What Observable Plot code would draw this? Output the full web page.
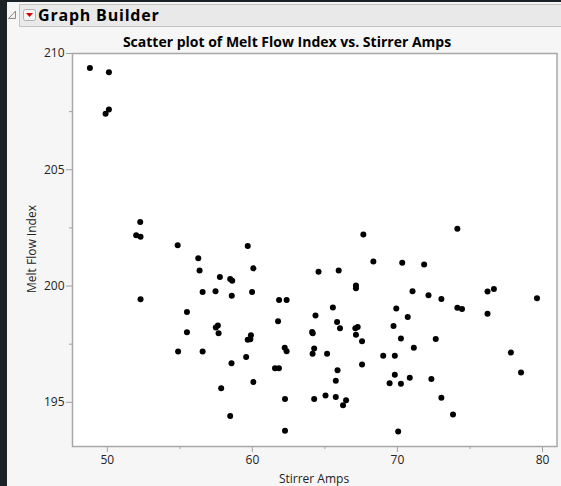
<!DOCTYPE html>
<html><head><meta charset="utf-8">
<script src="https://cdn.jsdelivr.net/npm/d3@7"></script>
<script src="https://cdn.jsdelivr.net/npm/@observablehq/plot@0.6"></script>
<style>
html,body{margin:0;padding:0;}
body{width:561px;height:486px;background:#1b2329;position:relative;overflow:hidden;font-family:"Open Sans",sans-serif;}
#panel{position:absolute;left:7px;top:2px;right:0;bottom:0;background:#f6f6f6;}
#hdr{position:absolute;left:19px;top:4px;right:0;height:21px;background:#e9e9e9;border:1px solid #c4c4c4;border-right:none;}
#hdrtext{position:absolute;left:38px;top:5px;font-weight:bold;font-size:16px;letter-spacing:0.8px;color:#000;line-height:20px;}
#icons{position:absolute;left:0;top:0;}
#title{position:absolute;left:7px;width:560px;top:32px;text-align:center;font-weight:bold;font-size:14px;line-height:20px;color:#000;}
#ylab{position:absolute;left:31px;top:249px;transform:translate(-50%,-50%) rotate(-90deg);font-size:12px;color:#222;white-space:nowrap;}
#xlab{position:absolute;left:314px;top:478px;transform:translate(-50%,-50%);font-size:12px;color:#222;white-space:nowrap;}
#chart{position:absolute;left:0;top:0;}
</style>
</head><body>
<div id="panel"></div>
<div id="hdr"></div>
<svg id="icons" width="60" height="30">
  <path d="M15.5,11 L15.5,18.5 L8.5,18.5 Z" fill="#f0f0f0" stroke="#8a8a8a" stroke-width="1"/>
  <rect x="23.5" y="9.5" width="12" height="11" rx="2" fill="#f4f4f4" stroke="#b0b0b0"/>
  <path d="M26,13 L33,13 L29.5,17 Z" fill="#d40000"/>
</svg>
<div id="hdrtext">Graph Builder</div>
<div id="title">Scatter plot of Melt Flow Index vs. Stirrer Amps</div>
<div id="chart"></div>
<div id="ylab">Melt Flow Index</div>
<div id="xlab">Stirrer Amps</div>
<script>
const stirrerAmps = [48.80,50.11,50.11,49.88,52.27,51.99,52.29,54.85,59.68,56.27,
  60.07,56.36,57.76,58.47,58.61,56.57,57.46,58.58,59.98,52.29,
  61.84,62.36,55.49,61.77,57.48,57.62,55.49,57.67,59.90,59.68,
  59.86,54.88,56.57,59.57,58.56,61.56,61.83,60.07,57.85,58.47,
  67.65,68.34,70.33,64.56,65.95,67.14,67.14,71.04,65.55,69.92,
  70.71,64.35,65.84,66.04,69.73,67.10,67.26,64.12,64.16,67.14,
  67.56,70.24,71.13,62.23,62.36,64.26,64.15,65.15,69.02,69.82,
  65.87,67.56,69.82,70.85,69.46,70.24,65.75,62.25,64.26,65.04,
  65.75,66.46,66.25,62.25,70.05,74.13,71.84,72.14,73.03,76.21,
  76.65,79.62,74.13,74.45,76.21,72.64,77.82,78.52,72.34,73.03,73.83];
const meltFlowIndex = [209.38,209.19,207.59,207.41,202.75,202.18,202.12,201.75,201.72,201.19,
  200.76,200.67,200.39,200.30,200.23,199.74,199.78,199.58,199.74,199.43,
  199.40,199.40,198.88,198.49,198.22,198.30,198.01,197.97,197.88,197.69,
  197.71,197.18,197.18,196.95,196.68,196.47,196.46,195.87,195.61,194.41,
  202.22,201.06,201.00,200.62,200.67,200.02,199.91,199.78,199.08,199.03,
  198.67,198.73,198.45,198.18,198.28,198.19,198.24,198.02,197.97,197.91,
  197.63,197.74,197.35,197.35,197.20,197.31,197.09,197.09,197.00,197.00,
  196.38,196.63,196.19,196.06,195.82,195.80,195.93,195.14,195.14,195.29,
  195.23,195.09,194.87,193.78,193.74,202.46,200.93,199.60,199.44,199.77,
  199.87,199.47,199.07,199.01,198.81,197.72,197.14,196.28,196.00,195.20,194.48];
const xTicks = [50, 60, 70, 80];
const xMinorTicks = [55, 65, 75];
const yTicks = [195, 200, 205, 210];
const yMinorTicks = [197.5, 202.5, 207.5];

const data = stirrerAmps.map((a, i) => ({amps: a, mfi: meltFlowIndex[i]}));

const chart = Plot.plot({
  width: 561,
  height: 486,
  marginLeft: 72,
  marginRight: 4.5,
  marginTop: 53,
  marginBottom: 40,
  style: {background: "transparent", fontFamily: "Open Sans, sans-serif", fontSize: "12px", overflow: "visible"},
  x: {domain: [47.6, 81.0]},
  y: {domain: [193.1, 210]},
  marks: [
    Plot.frame({fill: "white", stroke: null}),
    Plot.axisX({ticks: xMinorTicks, tickSize: 3, text: null, label: null, stroke: "#a0a0a0"}),
    Plot.axisX({ticks: xTicks, tickSize: 6, tickPadding: 3, stroke: "#a0a0a0", fill: "#222", label: null}),
    Plot.axisY({ticks: yMinorTicks, tickSize: 3, text: null, label: null, stroke: "#a0a0a0"}),
    Plot.axisY({ticks: yTicks, tickSize: 6, tickPadding: 2, stroke: "#a0a0a0", fill: "#222", label: null}),
    Plot.dot(data, {x: "amps", y: "mfi", r: 3, fill: "black", stroke: null}),
    Plot.frame({stroke: "#a8a8a8", strokeWidth: 1.5})
  ]
});
document.getElementById("chart").appendChild(chart);
</script>
</body></html>
